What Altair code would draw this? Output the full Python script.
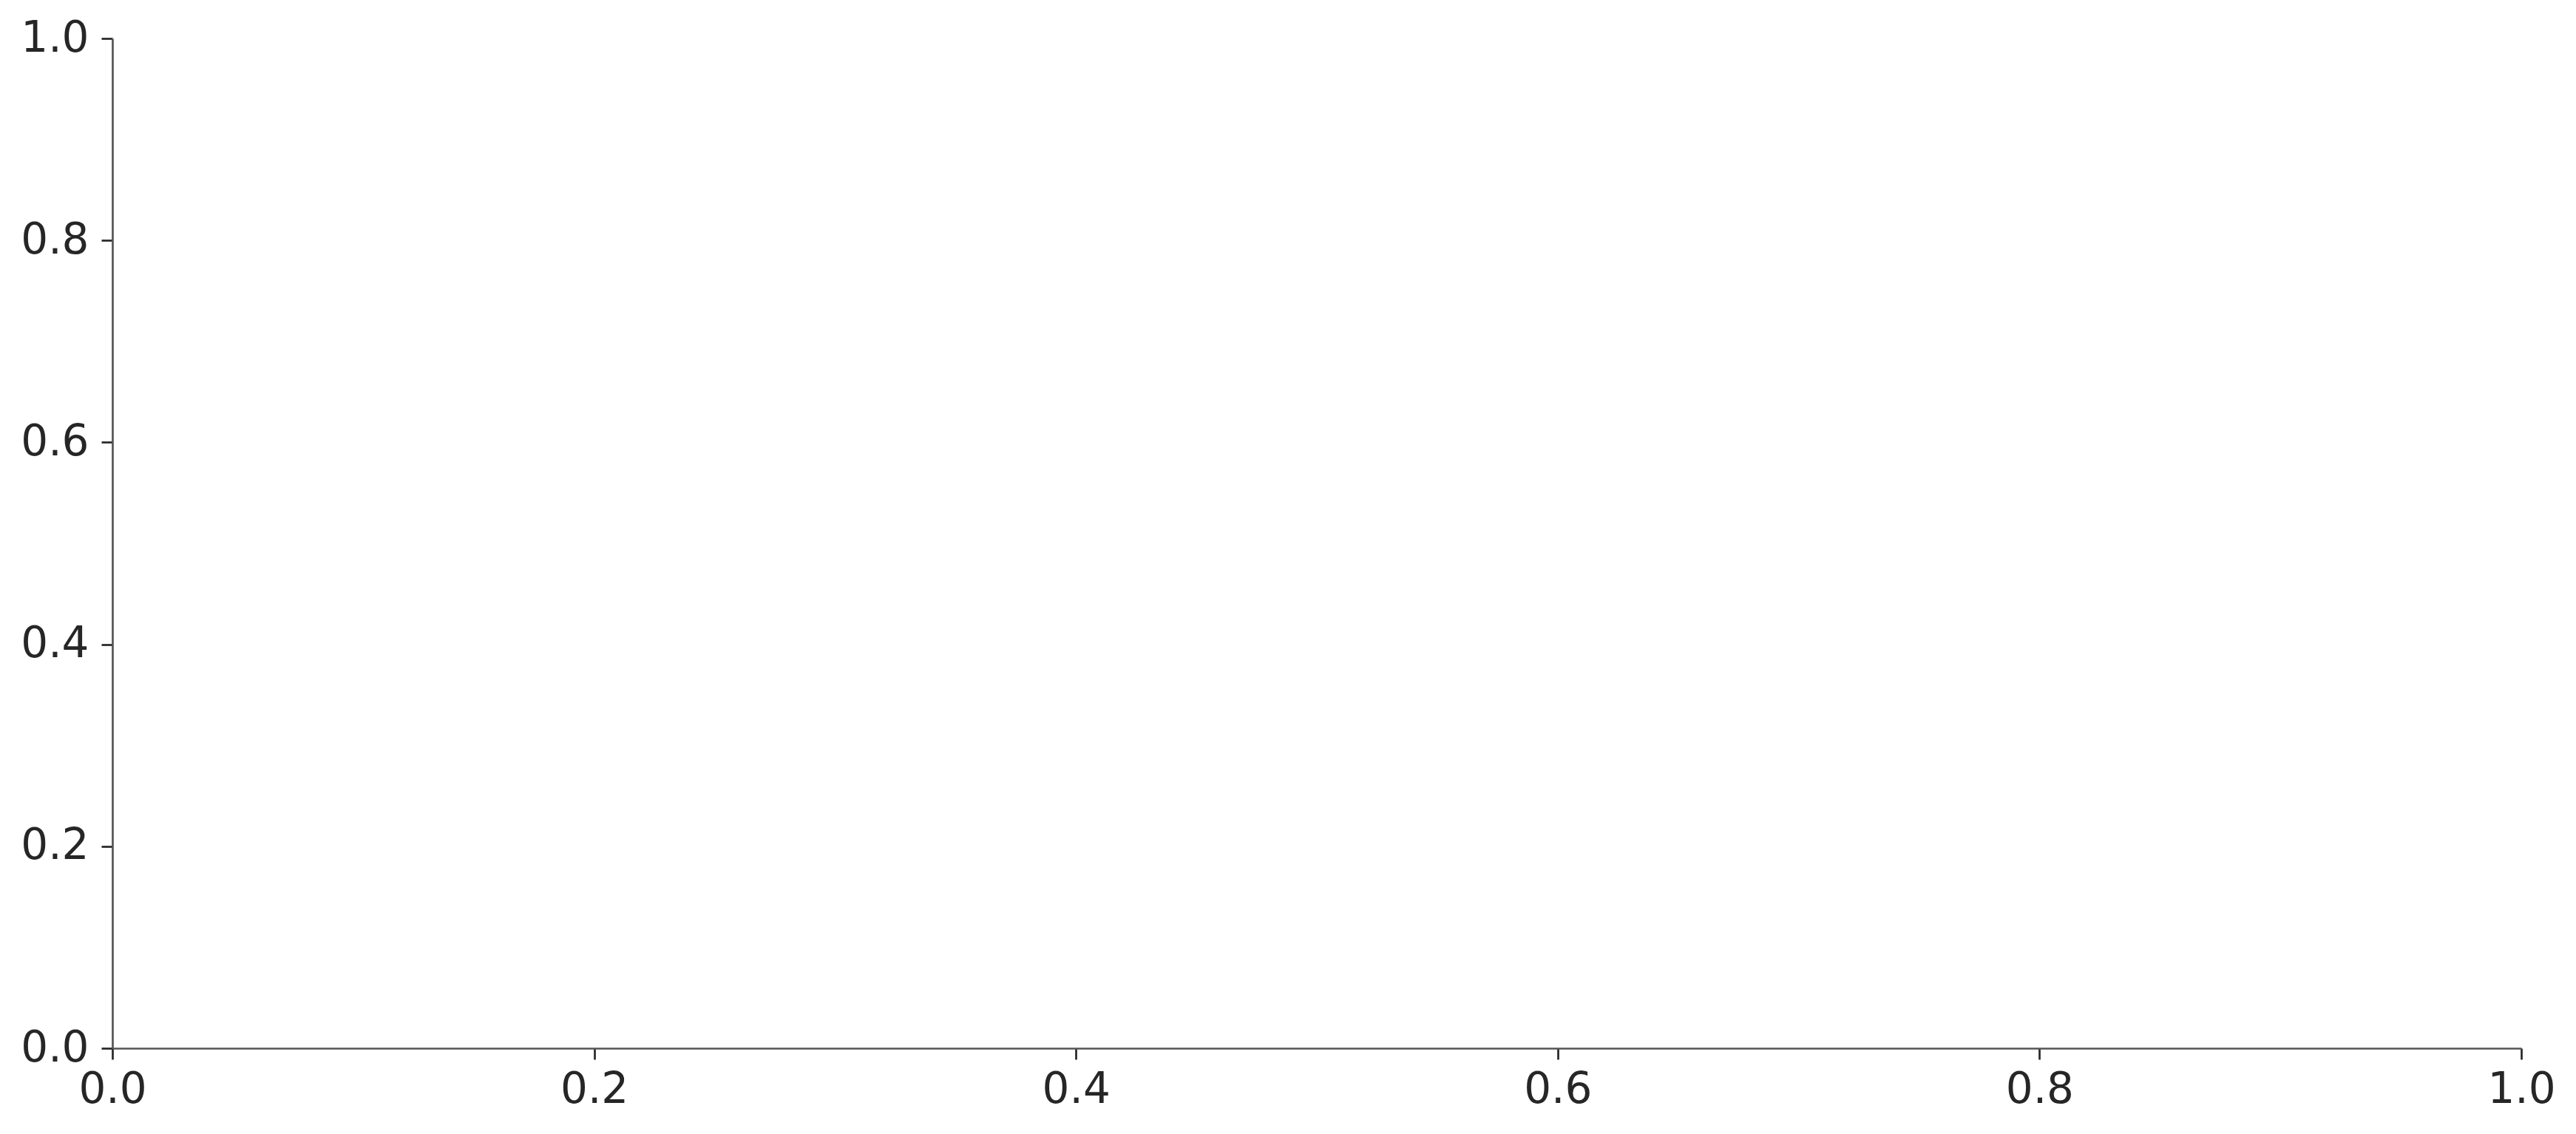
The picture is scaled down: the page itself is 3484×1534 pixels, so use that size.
import altair as alt
import pandas as pd

# Empty axes: only the 0..1 frame is shown
x_vals = [0.0, 1.0]
y_vals = [0.0, 1.0]
tick_vals = [0.0, 0.2, 0.4, 0.6, 0.8, 1.0]

df = pd.DataFrame({"x": x_vals, "y": y_vals})

axis_common = dict(
    values=tick_vals,
    format=".1f",
    title=None,
    grid=False,
    domainColor="#555555",
    domainWidth=2.7,
    tickColor="#262626",
    tickWidth=2.7,
    tickSize=15,
    labelColor="#262626",
    labelFont="DejaVu Sans",
    labelFontSize=58,
    labelOverlap=False,
    labelFlush=False,
    labelBound=False,
)

chart = (
    alt.Chart(df)
    .mark_point(opacity=0, size=1, strokeOpacity=0, fillOpacity=0)
    .encode(
        x=alt.X("x:Q", scale=alt.Scale(domain=[0, 1], nice=False, zero=False),
                axis=alt.Axis(labelPadding=12, **axis_common)),
        y=alt.Y("y:Q", scale=alt.Scale(domain=[0, 1], nice=False, zero=False),
                axis=alt.Axis(labelPadding=17, **axis_common)),
    )
    .properties(
        width=3258,
        height=1366,
        background="white",
        autosize=alt.AutoSizeParams(type="none"),
        padding={"left": 144, "top": 44, "right": 60, "bottom": 100},
    )
    .configure_view(stroke="transparent", strokeWidth=0)
)

chart.save("out.html", embed_options={"renderer": "svg", "actions": False})
